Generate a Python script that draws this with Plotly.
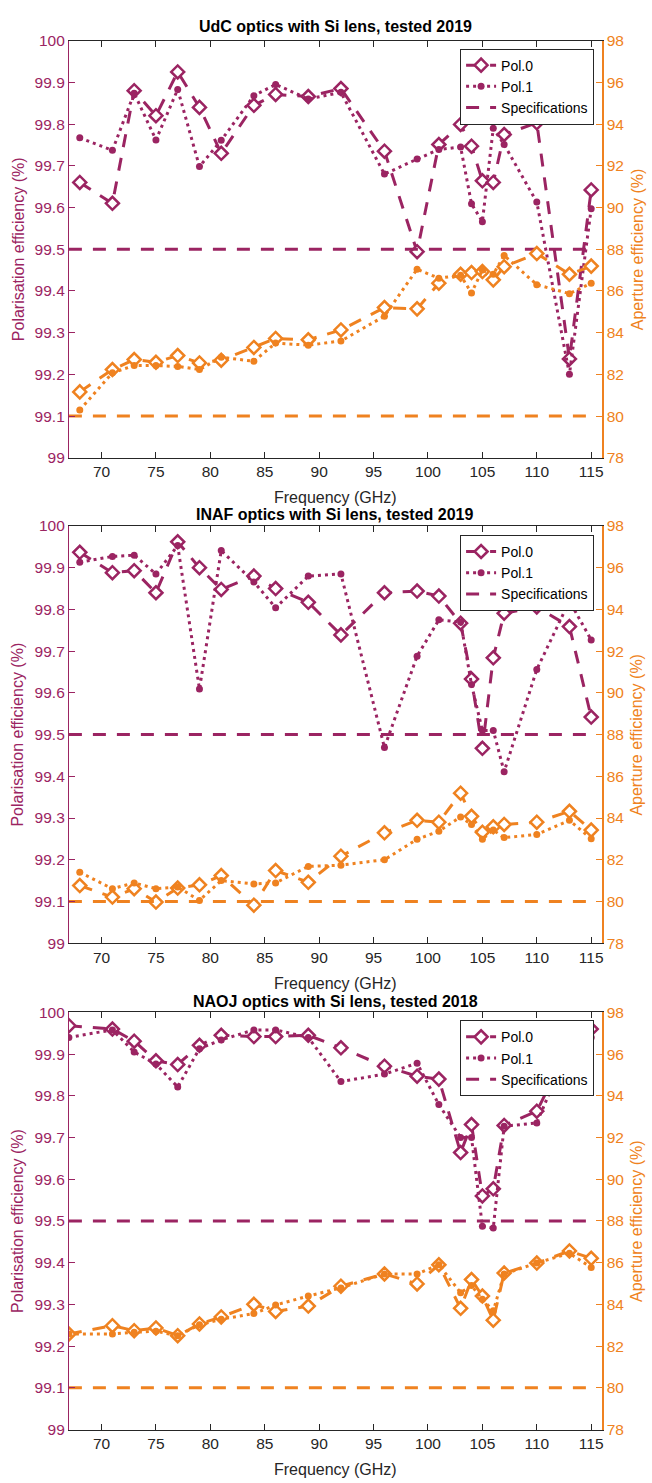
import plotly.graph_objects as go

# ---------------- data ----------------
freq_a = [68, 71, 73, 75, 77, 79, 81, 84, 86, 89, 92, 96, 99, 101, 103, 104, 105, 106, 107, 110, 113, 115]
freq_b = [67, 71, 73, 75, 77, 79, 81, 84, 86, 89, 92, 96, 99, 101, 103, 104, 105, 106, 107, 110, 113, 115]

titles = ["UdC optics with Si lens, tested 2019",
          "INAF optics with Si lens, tested 2019",
          "NAOJ optics with Si lens, tested 2018"]

udc_pol0 = [99.66, 99.61, 99.88, 99.82, 99.925, 99.84, 99.73, 99.845, 99.871, 99.866, 99.885, 99.735, 99.494, 99.751, 99.799, 99.747, 99.664, 99.66, 99.775, 99.803, 99.237, 99.642]
udc_pol1 = [99.767, 99.737, 99.874, 99.762, 99.883, 99.698, 99.761, 99.868, 99.895, 99.86, 99.876, 99.68, 99.716, 99.739, 99.745, 99.609, 99.566, 99.79, 99.751, 99.613, 99.2, 99.597]
udc_ap0 = [81.16, 82.23, 82.71, 82.58, 82.9, 82.55, 82.68, 83.29, 83.72, 83.66, 84.13, 85.2, 85.14, 86.37, 86.8, 86.88, 86.93, 86.53, 87.16, 87.79, 86.8, 87.19]
udc_ap1 = [80.29, 82.08, 82.42, 82.42, 82.38, 82.23, 82.82, 82.63, 83.5, 83.4, 83.6, 84.79, 87.04, 86.61, 86.75, 85.9, 87.0, 86.8, 87.7, 86.3, 85.87, 86.37]

inaf_pol0 = [99.937, 99.888, 99.893, 99.84, 99.962, 99.9, 99.848, 99.88, 99.85, 99.817, 99.739, 99.84, 99.844, 99.832, 99.767, 99.633, 99.467, 99.684, 99.791, 99.806, 99.759, 99.542]
inaf_pol1 = [99.913, 99.927, 99.93, 99.885, 99.953, 99.609, 99.941, 99.866, 99.804, 99.88, 99.885, 99.469, 99.688, 99.775, 99.77, 99.62, 99.51, 99.51, 99.411, 99.656, 99.82, 99.727]
inaf_ap0 = [80.76, 80.21, 80.61, 79.97, 80.64, 80.8, 81.24, 79.82, 81.48, 80.92, 82.17, 83.29, 83.89, 83.8, 85.19, 84.08, 83.32, 83.58, 83.69, 83.8, 84.32, 83.42]
inaf_ap1 = [81.4, 80.61, 80.89, 80.61, 80.69, 80.05, 81.0, 80.84, 80.89, 81.68, 81.74, 82.0, 82.98, 83.37, 84.05, 83.69, 82.98, 83.42, 83.06, 83.21, 83.89, 83.0]

naoj_pol0 = [99.968, 99.96, 99.931, 99.884, 99.875, 99.921, 99.945, 99.942, 99.942, 99.945, 99.915, 99.871, 99.847, 99.84, 99.664, 99.731, 99.56, 99.577, 99.729, 99.763, 99.92, 99.96]
naoj_pol1 = [99.94, 99.958, 99.905, 99.876, 99.821, 99.913, 99.934, 99.958, 99.958, 99.94, 99.834, 99.852, 99.878, 99.779, 99.7, 99.7, 99.487, 99.483, 99.727, 99.735, 99.92, 99.94]
naoj_ap0 = [82.58, 82.98, 82.74, 82.87, 82.5, 83.06, 83.4, 84.0, 83.66, 83.92, 84.87, 85.46, 84.98, 85.9, 83.81, 85.19, 84.4, 83.24, 85.5, 85.98, 86.56, 86.21]
naoj_ap1 = [82.58, 82.58, 82.66, 82.71, 82.5, 83.02, 83.29, 83.56, 83.97, 84.4, 84.79, 85.46, 85.46, 85.9, 84.56, 84.9, 84.24, 83.69, 85.46, 85.98, 86.45, 85.77]

spec_x = [67, 115]
spec_pol = 99.5
spec_ap = 80

x_ticks = [70, 75, 80, 85, 90, 95, 100, 105, 110, 115]
pol_ticks = [99, 99.1, 99.2, 99.3, 99.4, 99.5, 99.6, 99.7, 99.8, 99.9, 100]
pol_ticktext = ["99", "99.1", "99.2", "99.3", "99.4", "99.5", "99.6", "99.7", "99.8", "99.9", "100"]
ap_ticks = [78, 80, 82, 84, 86, 88, 90, 92, 94, 96, 98]

panels = [
    (freq_a, udc_pol0, udc_pol1, udc_ap0, udc_ap1),
    (freq_a, inaf_pol0, inaf_pol1, inaf_ap0, inaf_ap1),
    (freq_b, naoj_pol0, naoj_pol1, naoj_ap0, naoj_ap1),
]

# ---------------- style ----------------
PURPLE = "#9b2462"
ORANGE = "#ef8220"
AXC = "#262626"
FONT = "Liberation Sans, Arial, sans-serif"
W, H = 652, 1483
DASH = "13px,11px"
DOT = "3px,4px"
LW = 3

x_dom = [69 / W, 603 / W]
tops = [32, 523, 1015]
bots = [454, 945, 1437]
legend_tops = [40, 532, 1023]
title_ys = [18, 511, 1004]
xlabel_ys = [494, 986, 1477]

fig = go.Figure()
layout = dict(
    width=W, height=H,
    margin=dict(l=0, r=0, t=0, b=0),
    paper_bgcolor="white", plot_bgcolor="white",
    font=dict(family=FONT, color=AXC),
    showlegend=True,
    annotations=[],
)

for i, (fx, p0, p1, a0, a1) in enumerate(panels):
    n = i + 1
    xa = "x" if n == 1 else f"x{n}"
    yl = "y" if n == 1 else f"y{2 * n - 1}"
    yr = f"y{2 * n}"
    leg = "legend" if n == 1 else f"legend{n}"

    # purple traces (left axis)
    fig.add_trace(go.Scatter(
        x=fx, y=p0, xaxis=xa, yaxis=yl, name="Pol.0", legend=leg,
        mode="lines+markers",
        line=dict(color=PURPLE, width=LW, dash=DASH),
        marker=dict(symbol="diamond", size=10, color="white",
                    line=dict(color=PURPLE, width=2.5))))
    fig.add_trace(go.Scatter(
        x=fx, y=p1, xaxis=xa, yaxis=yl, name="Pol.1", legend=leg,
        mode="lines+markers",
        line=dict(color=PURPLE, width=LW, dash=DOT),
        marker=dict(symbol="circle", size=7, color=PURPLE)))
    fig.add_trace(go.Scatter(
        x=spec_x, y=[spec_pol, spec_pol], xaxis=xa, yaxis=yl,
        name="Specifications", legend=leg, mode="lines",
        line=dict(color=PURPLE, width=LW, dash=DASH)))

    # orange traces (right axis)
    fig.add_trace(go.Scatter(
        x=fx, y=a0, xaxis=xa, yaxis=yr, showlegend=False,
        mode="lines+markers",
        line=dict(color=ORANGE, width=LW, dash=DASH),
        marker=dict(symbol="diamond", size=10, color="white",
                    line=dict(color=ORANGE, width=2.5))))
    fig.add_trace(go.Scatter(
        x=fx, y=a1, xaxis=xa, yaxis=yr, showlegend=False,
        mode="lines+markers",
        line=dict(color=ORANGE, width=LW, dash=DOT),
        marker=dict(symbol="circle", size=7, color=ORANGE)))
    fig.add_trace(go.Scatter(
        x=spec_x, y=[spec_ap, spec_ap], xaxis=xa, yaxis=yr,
        showlegend=False, mode="lines",
        line=dict(color=ORANGE, width=LW, dash=DASH)))

    y_dom = [1 - bots[i] / H, 1 - tops[i] / H]
    xkey = "xaxis" if n == 1 else f"xaxis{n}"
    ylkey = "yaxis" if n == 1 else f"yaxis{2 * n - 1}"
    yrkey = f"yaxis{2 * n}"

    layout[xkey] = dict(
        domain=x_dom, anchor=yl, range=[67, 116],
        tickvals=x_ticks, ticks="inside", ticklen=6, tickcolor=AXC,
        showline=True, linecolor=AXC, linewidth=1, mirror="ticks",
        showgrid=False, zeroline=False,
        tickfont=dict(family=FONT, size=15.5, color=AXC))
    layout[ylkey] = dict(
        domain=y_dom, anchor=xa, range=[99, 100],
        tickvals=pol_ticks, ticktext=pol_ticktext,
        ticks="inside", ticklen=6, tickcolor=PURPLE,
        showline=True, linecolor=PURPLE, linewidth=1,
        showgrid=False, zeroline=False,
        tickfont=dict(family=FONT, size=15.5, color=PURPLE))
    layout[yrkey] = dict(
        domain=y_dom, anchor=xa, overlaying=yl, side="right",
        range=[78, 98], tickvals=ap_ticks,
        ticks="inside", ticklen=6, tickcolor=ORANGE,
        showline=True, linecolor=ORANGE, linewidth=1.5,
        showgrid=False, zeroline=False,
        tickfont=dict(family=FONT, size=15.5, color=ORANGE))

    layout[leg] = dict(
        x=595 / W, y=1 - legend_tops[i] / H, xanchor="right", yanchor="top",
        bgcolor="white", bordercolor=AXC, borderwidth=1,
        font=dict(family=FONT, size=14, color="black"),
        tracegroupgap=0, itemwidth=30)

    mid_y = 1 - (tops[i] + bots[i]) / 2 / H
    layout["annotations"] += [
        dict(text=f"<b>{titles[i]}</b>", x=336 / W, y=1 - title_ys[i] / H,
             xref="paper", yref="paper", xanchor="center", yanchor="middle",
             showarrow=False, font=dict(family=FONT, size=16, color="black")),
        dict(text="Frequency (GHz)", x=336 / W, y=1 - xlabel_ys[i] / H,
             xref="paper", yref="paper", xanchor="center", yanchor="middle",
             showarrow=False, font=dict(family=FONT, size=16, color=AXC)),
        dict(text="Polarisation efficiency (%)", x=18 / W, y=mid_y,
             xref="paper", yref="paper", xanchor="center", yanchor="middle",
             textangle=-90, showarrow=False,
             font=dict(family=FONT, size=16, color=PURPLE)),
        dict(text="Aperture efficiency (%)", x=638 / W, y=mid_y,
             xref="paper", yref="paper", xanchor="center", yanchor="middle",
             textangle=-90, showarrow=False,
             font=dict(family=FONT, size=16, color=ORANGE)),
    ]

fig.update_layout(**layout)
fig.write_html(
    "out.html",
    config={"displayModeBar": False, "staticPlot": True},
    post_script=(
        "var h=document.documentElement,b=document.body;"
        "h.style.margin='0';h.style.padding='0';h.style.overflow='hidden';"
        "b.style.margin='0';b.style.padding='0';b.style.overflow='hidden';"
    ),
)
